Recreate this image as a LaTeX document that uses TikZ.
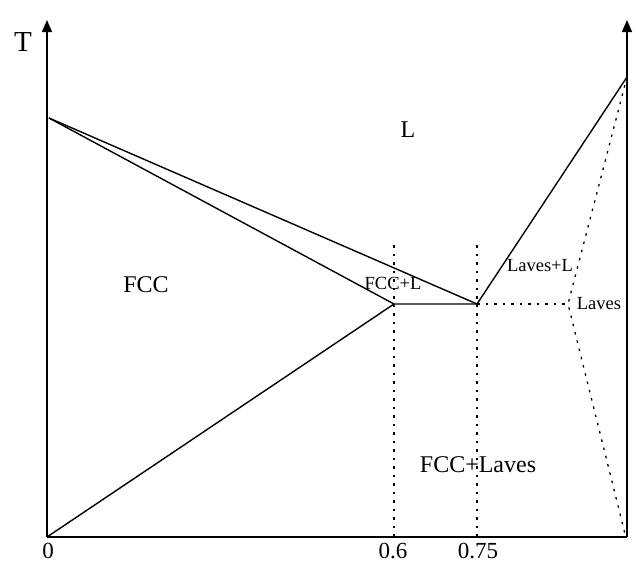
\documentclass[tikz,border=0pt]{standalone}
\usepackage{fontspec}
\setmainfont{Liberation Serif}
\usetikzlibrary{arrows.meta}
\begin{document}
\begin{tikzpicture}[x=1pt,y=-1pt,
  axis/.style={line width=1.6pt},
  phase/.style={line width=1.4pt},
  dots/.style={line width=1.3pt, dash pattern=on 2.5pt off 6pt},
  biglbl/.style={inner sep=0pt, font=\fontsize{24}{24}\selectfont},
  smalllbl/.style={inner sep=0pt, font=\fontsize{18.5}{18.5}\selectfont},
  ticklbl/.style={inner sep=0pt, font=\fontsize{23}{23}\selectfont},
  tip/.style={-{Triangle[length=12pt,width=10pt]}}]
\useasboundingbox (0,0) rectangle (636,566);
% key points
\coordinate (o) at (47,537);
\coordinate (ltop) at (47,20);
\coordinate (rb) at (627,537);
\coordinate (rtop) at (627,20);
\coordinate (lt) at (49,118);
\coordinate (a) at (394,304);
\coordinate (e) at (477,304);
\coordinate (r) at (627,77);
\coordinate (lv) at (568,304);
\coordinate (rbot) at (625,534);
\coordinate (ad) at (394,245);
\coordinate (ab) at (394,537);
\coordinate (ed) at (477,245);
\coordinate (eb) at (477,537);
% axes
\draw[axis,tip] (o) -- (ltop);
\draw[axis,tip] (rb) -- (rtop);
\draw[axis] (o) -- (rb);
% phase boundaries
\draw[phase] (lt) -- (e);
\draw[phase] (lt) -- (a);
\draw[phase] (o) -- (a) -- (e) -- (r);
% dotted lines
\draw[dots] (ad) -- (ab);
\draw[dots] (ed) -- (eb);
\draw[dots] (e) -- (lv);
\draw[dots] (r) -- (lv) -- (rbot);
% labels
\node[inner sep=0pt, font=\fontsize{29}{29}\selectfont] (T) at (23,42) {T};
\node[biglbl] (L) at (408,130) {L};
\node[biglbl] (FCC) at (146,285) {FCC};
\node[biglbl] (FL) at (478,465) {FCC+Laves};
\node[smalllbl] (FCCL) at (393,283) {FCC+L};
\node[smalllbl] (LL) at (540,266) {Laves+L};
\node[smalllbl] (Lv) at (599,304) {Laves};
\node[ticklbl] (t0) at (48,551) {0};
\node[ticklbl] (t6) at (393,551) {0.6};
\node[ticklbl] (t75) at (478,551) {0.75};
\end{tikzpicture}
\end{document}
